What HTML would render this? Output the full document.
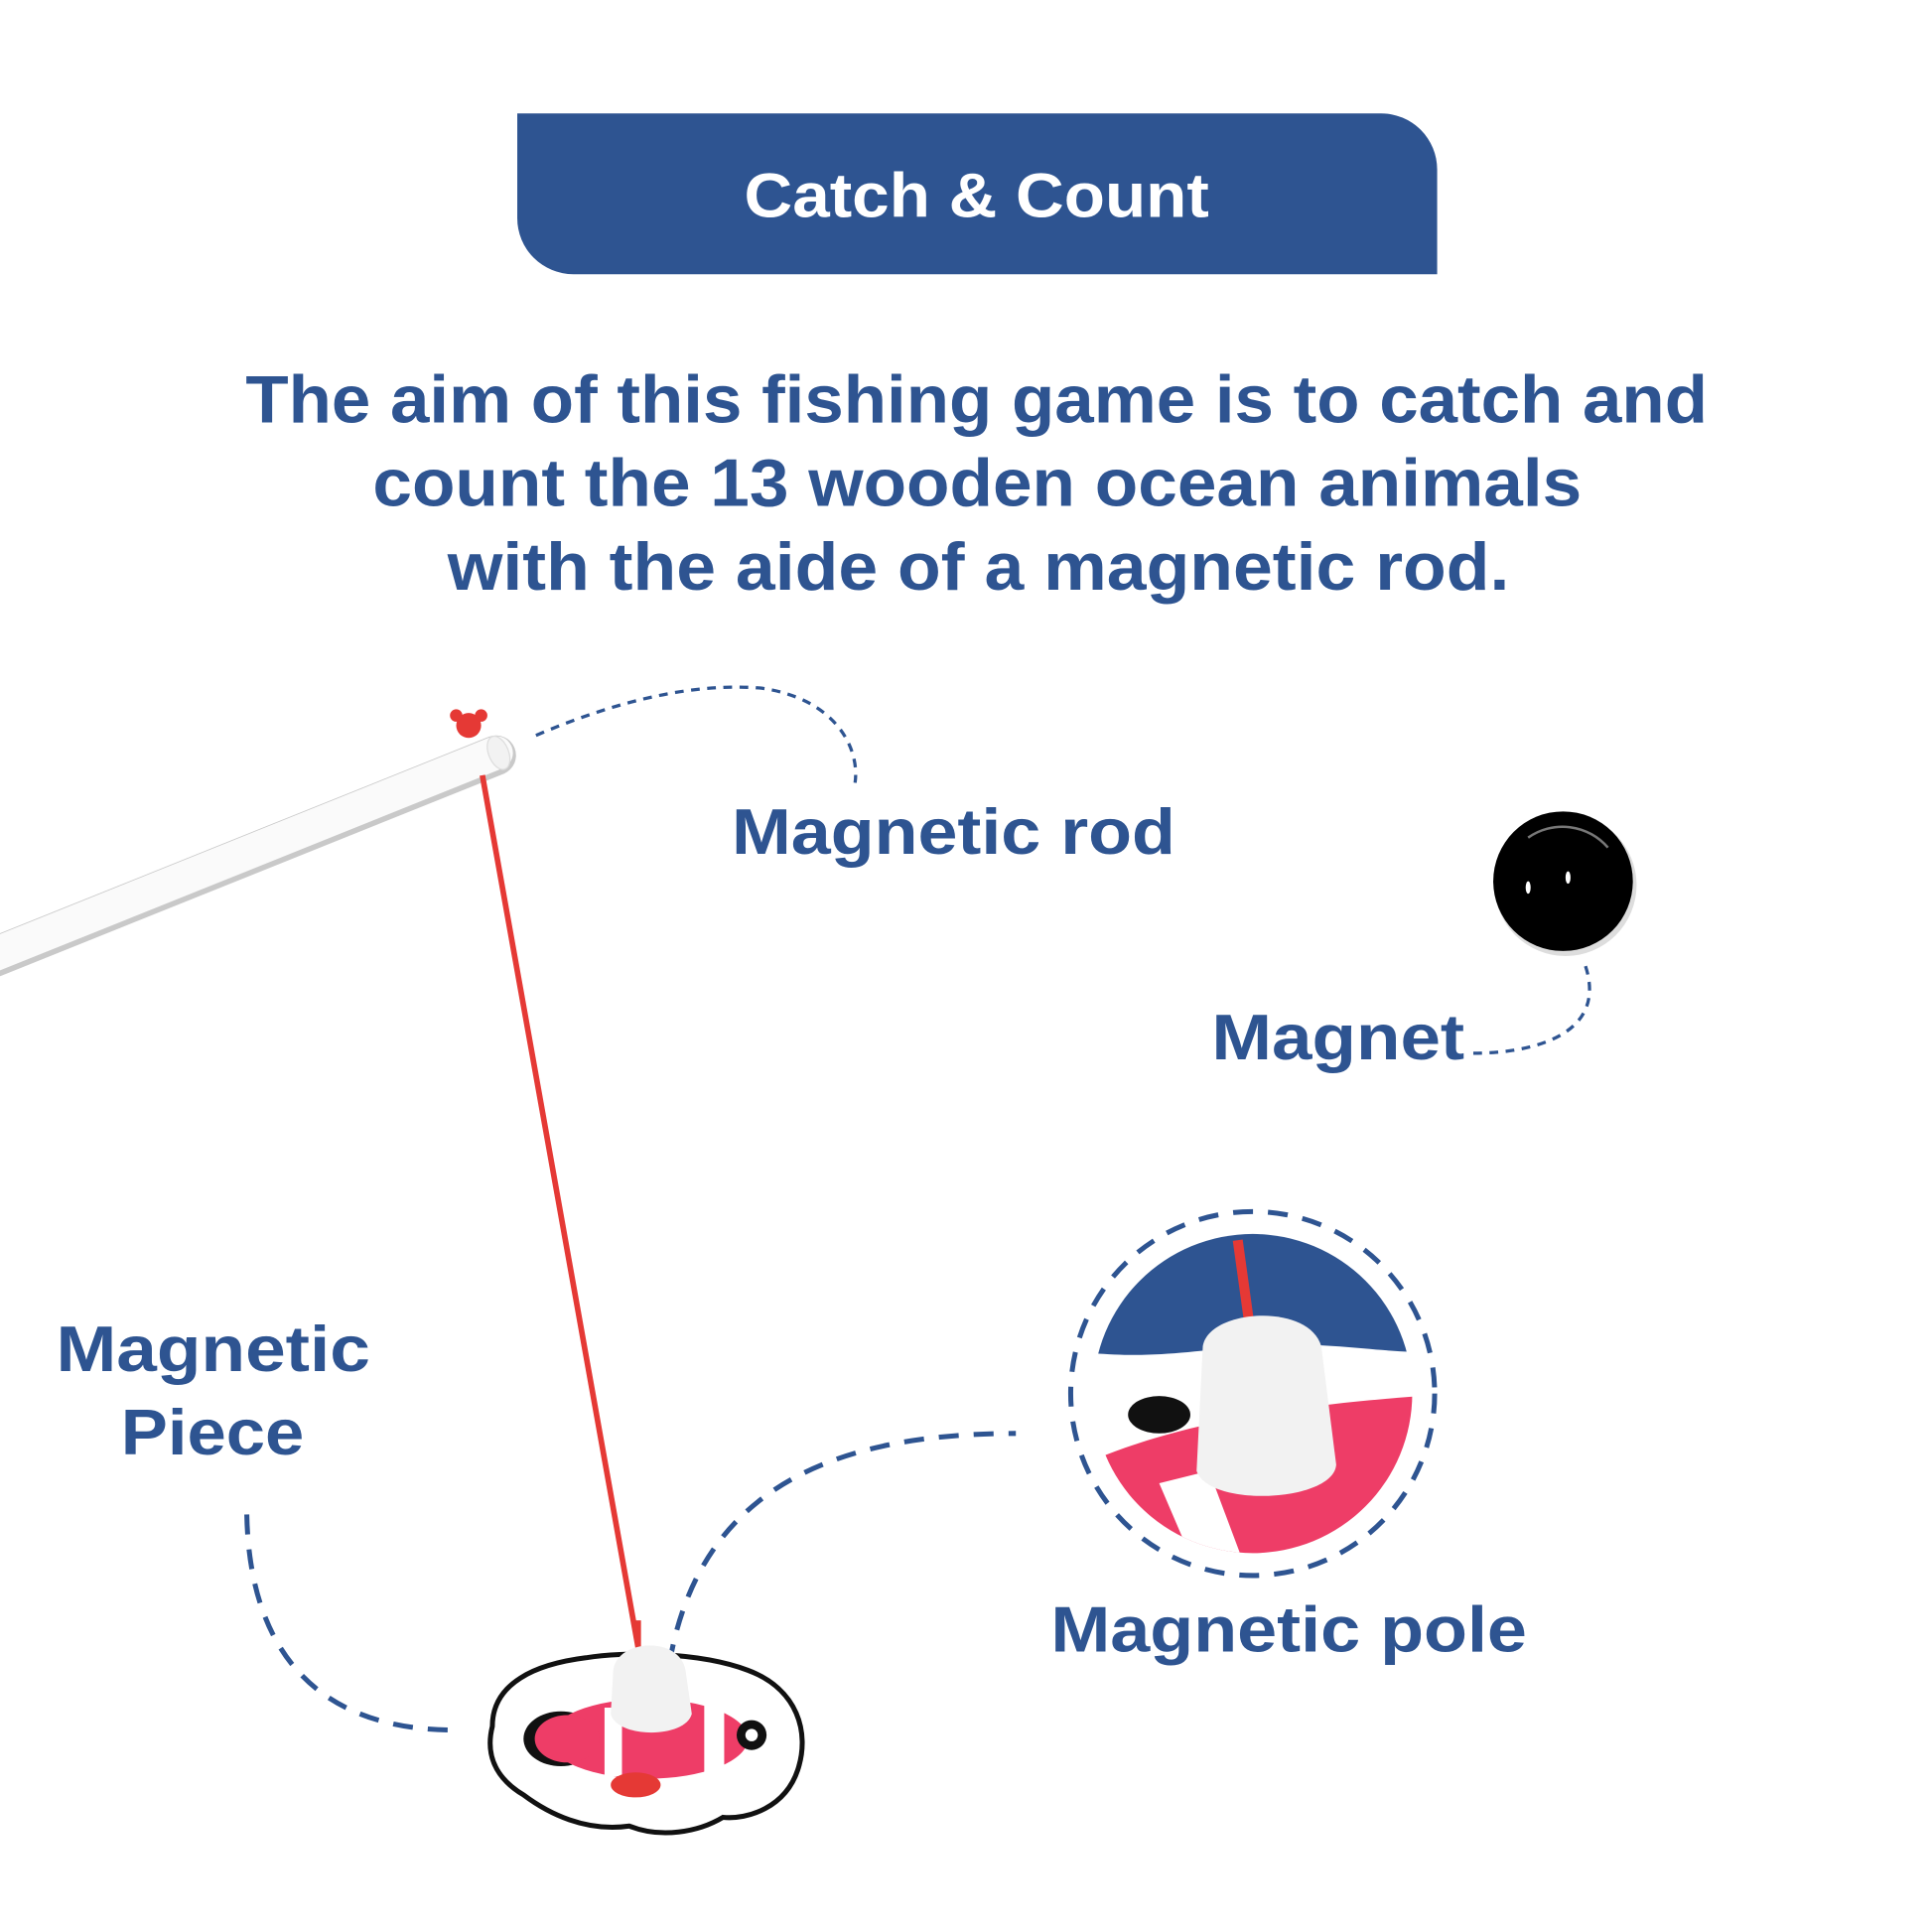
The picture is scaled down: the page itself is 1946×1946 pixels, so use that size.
<!DOCTYPE html>
<html><head><meta charset="utf-8"><style>
html,body{margin:0;padding:0;background:#fff;}
svg{display:block;}
text{font-family:"Liberation Sans",Arial,sans-serif;font-weight:bold;fill:#2E5491;}
</style></head><body>
<svg width="1946" height="1946" viewBox="0 0 1550 1550" xmlns="http://www.w3.org/2000/svg">
<rect width="1550" height="1550" fill="#fff"/>
<path d="M415 91 H1108 A45 45 0 0 1 1153 136 V220 H460 A45 45 0 0 1 415 175 Z" fill="#2E5491"/>
<text x="597" y="174" font-size="50" textLength="373" lengthAdjust="spacingAndGlyphs" style="fill:#fff">Catch &amp; Count</text>
<text x="197" y="339" font-size="54" textLength="1173" lengthAdjust="spacingAndGlyphs">The aim of this fishing game is to catch and</text>
<text x="299" y="406" font-size="54" textLength="970" lengthAdjust="spacingAndGlyphs">count the 13 wooden ocean animals</text>
<text x="359" y="473" font-size="54" textLength="852" lengthAdjust="spacingAndGlyphs">with the aide of a magnetic rod.</text>

<line x1="-5" y1="768" x2="398" y2="606" stroke="#c9c9c9" stroke-width="32" stroke-linecap="round"/>
<line x1="-5" y1="766" x2="398" y2="604" stroke="#fafafa" stroke-width="27" stroke-linecap="round"/>
<ellipse cx="400" cy="604" rx="8" ry="14" fill="#f2f2f2" stroke="#ddd" transform="rotate(-22 400 604)"/>
<circle cx="376" cy="582" r="10" fill="#e53935"/>
<circle cx="366" cy="574" r="5" fill="#e53935"/><circle cx="386" cy="574" r="5" fill="#e53935"/>
<line x1="387" y1="622" x2="512" y2="1322" stroke="#e53935" stroke-width="4.5"/>

<g fill="none" stroke="#2E5491" stroke-width="2.6" stroke-dasharray="7 6">
<path d="M430 590 C500 560 560 548 610 552 C670 560 690 600 686 628"/>
<path d="M1182 845 C1230 845 1290 830 1272 775"/>
</g>
<g fill="none" stroke="#2E5491" stroke-width="4" stroke-dasharray="16 12">
<path d="M198 1215 C200 1320 250 1388 365 1388"/>
<path d="M537 1335 C560 1200 660 1150 815 1150"/>
<circle cx="1005" cy="1118" r="146"/>
</g>

<text x="587" y="685" font-size="52" textLength="356" lengthAdjust="spacingAndGlyphs">Magnetic rod</text>
<text x="972" y="850" font-size="52" textLength="203" lengthAdjust="spacingAndGlyphs">Magnet</text>
<text x="45" y="1100" font-size="52" textLength="252" lengthAdjust="spacingAndGlyphs">Magnetic</text>
<text x="97" y="1167" font-size="52" textLength="147" lengthAdjust="spacingAndGlyphs">Piece</text>
<text x="843" y="1325" font-size="52" textLength="382" lengthAdjust="spacingAndGlyphs">Magnetic pole</text>

<circle cx="1256" cy="710" r="57" fill="#ddd"/>
<circle cx="1254" cy="707" r="56" fill="#000"/>
<path d="M1226 672 A48 48 0 0 1 1290 680" stroke="#777" stroke-width="2" fill="none"/>
<ellipse cx="1226" cy="712" rx="2" ry="5" fill="#fff"/>
<ellipse cx="1258" cy="704" rx="2" ry="5" fill="#fff"/>

<defs><clipPath id="c"><circle cx="1005" cy="1118" r="128"/></clipPath></defs>
<g clip-path="url(#c)">
<rect x="870" y="980" width="280" height="280" fill="#fff"/>
<path d="M870 980 H1150 V1085 C1100 1085 1060 1075 1000 1080 C950 1085 920 1090 870 1085 Z" fill="#2E5491"/>
<path d="M880 1170 C930 1150 1000 1130 1140 1120 V1260 H880 Z" fill="#ee3d67"/>
<path d="M930 1190 L960 1260 H1000 L970 1180 Z" fill="#fff"/>
<ellipse cx="930" cy="1135" rx="25" ry="15" fill="#111"/>
<line x1="993" y1="995" x2="1002" y2="1060" stroke="#e53935" stroke-width="8"/>
<path d="M965 1080 C970 1050 1050 1045 1060 1080 L1072 1175 C1070 1205 970 1210 960 1180 Z" fill="#f2f2f2"/>
</g>

<path d="M395 1385 C395 1350 430 1335 470 1330 C500 1325 560 1325 600 1340 C640 1355 650 1390 640 1420 C630 1450 600 1460 580 1458 C560 1470 530 1475 505 1465 C470 1470 440 1455 420 1440 C395 1425 390 1405 395 1385 Z" fill="#fff" stroke="#111" stroke-width="4"/>
<ellipse cx="450" cy="1395" rx="30" ry="22" fill="#111"/>
<ellipse cx="520" cy="1395" rx="80" ry="32" fill="#ee3d67"/>
<ellipse cx="455" cy="1395" rx="26" ry="19" fill="#ee3d67"/>
<rect x="485" y="1370" width="14" height="55" fill="#fff"/>
<rect x="565" y="1365" width="16" height="60" fill="#fff"/>
<circle cx="603" cy="1392" r="12" fill="#111"/>
<circle cx="603" cy="1392" r="5" fill="#fff"/>
<ellipse cx="510" cy="1432" rx="20" ry="10" fill="#e53935"/>
<line x1="512" y1="1300" x2="512" y2="1325" stroke="#e53935" stroke-width="4.5"/>
<path d="M492 1340 C495 1315 545 1312 550 1340 L555 1375 C550 1395 495 1395 490 1375 Z" fill="#f2f2f2"/>
</svg>
</body></html>
